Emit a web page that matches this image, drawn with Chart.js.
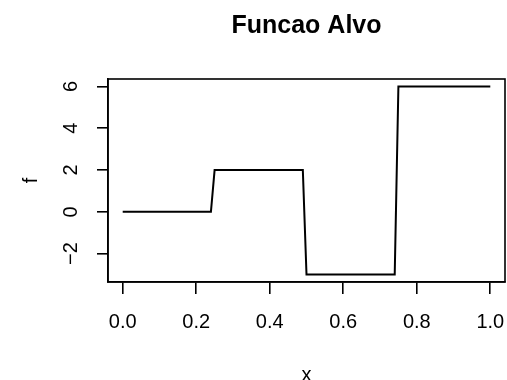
<!DOCTYPE html>
<html>
<head>
<meta charset="utf-8">
<title>Funcao Alvo</title>
<script src="https://cdn.jsdelivr.net/npm/chart.js@4.4.0/dist/chart.umd.min.js"></script>
<style>
    html, body { margin: 0; padding: 0; background: #fff; }
    canvas { display: block; }
</style>
</head>
<body>
<canvas id="alvo" width="507" height="380"></canvas>
<script>
const xValues = [0, 0.24, 0.25, 0.49, 0.50, 0.74, 0.75, 1.0];
const fValues = [0, 0, 2, 2, -3, -3, 6, 6];
const xTicks = [0, 0.2, 0.4, 0.6, 0.8, 1.0];
const yTicks = [-2, 0, 2, 4, 6];

Chart.defaults.font.family = "'Liberation Sans', Arial, Helvetica, sans-serif";
Chart.defaults.color = '#000';

// R style box round the plot region, title centred on it
const boxPlugin = {
    id: 'box',
    afterLayout(chart) {
        const a = chart.chartArea;
        if (chart.titleBlock) {
            chart.titleBlock.left = a.left;
            chart.titleBlock.right = a.right;
        }
    },
    afterDraw(chart) {
        const a = chart.chartArea;
        const ctx = chart.ctx;
        ctx.save();
        ctx.strokeStyle = '#000';
        ctx.lineWidth = 1.6;
        ctx.strokeRect(a.left, a.top, a.right - a.left, a.bottom - a.top);
        ctx.restore();
    }
};

function fixTicks(values) {
    return function (scale) {
        scale.ticks = values.map(v => ({value: v}));
    };
}

const ctx = document.getElementById('alvo');

new Chart(ctx, {
    type: 'line',
    data: {
        datasets: [{
            data: xValues.map((x, i) => ({x: x, y: fValues[i]})),
            borderColor: '#000',
            borderWidth: 2,
            pointRadius: 0,
            tension: 0,
            fill: false
        }]
    },
    options: {
        responsive: false,
        animation: false,
        layout: {padding: {top: 0, right: 2, bottom: 0, left: 0}},
        plugins: {
            legend: {display: false},
            tooltip: {enabled: false},
            title: {
                display: true,
                text: 'Funcao Alvo',
                color: '#000',
                font: {size: 25, weight: 'bold', lineHeight: 1.2},
                padding: {top: 11.5, bottom: 37.5}
            }
        },
        scales: {
            x: {
                type: 'linear',
                min: -0.04,
                max: 1.04,
                afterBuildTicks: fixTicks(xTicks),
                afterFit(scale) {
                    scale.height = 98;
                    scale.paddingLeft = 0;
                    scale.paddingRight = 0;
                },
                grid: {drawOnChartArea: false, drawTicks: true, tickLength: 12, color: '#000', lineWidth: 1.6},
                border: {display: true, color: '#000', width: 1.6},
                ticks: {
                    padding: 16,
                    maxRotation: 0,
                    autoSkip: false,
                    font: {size: 20},
                    callback: v => v.toFixed(1)
                },
                title: {
                    display: true,
                    text: 'x',
                    font: {size: 20, lineHeight: 0.5},
                    padding: {top: 0, bottom: -0.5}
                }
            },
            y: {
                type: 'linear',
                min: -3.36,
                max: 6.36,
                afterBuildTicks: fixTicks(yTicks),
                afterFit(scale) {
                    scale.width = 108;
                    scale.paddingTop = 0;
                    scale.paddingBottom = 0;
                },
                grid: {drawOnChartArea: false, drawTicks: true, tickLength: 11, color: '#000', lineWidth: 1.6},
                border: {display: true, color: '#000', width: 1.6},
                ticks: {
                    padding: 14,
                    minRotation: 90,
                    maxRotation: 90,
                    crossAlign: 'center',
                    autoSkip: false,
                    font: {size: 20},
                    callback: v => String(v).replace('-', '\u2212')
                },
                title: {
                    display: true,
                    text: 'f',
                    font: {size: 20, lineHeight: 1.2},
                    padding: {top: 19, bottom: 0}
                }
            }
        }
    },
    plugins: [boxPlugin]
});
</script>
</body>
</html>
